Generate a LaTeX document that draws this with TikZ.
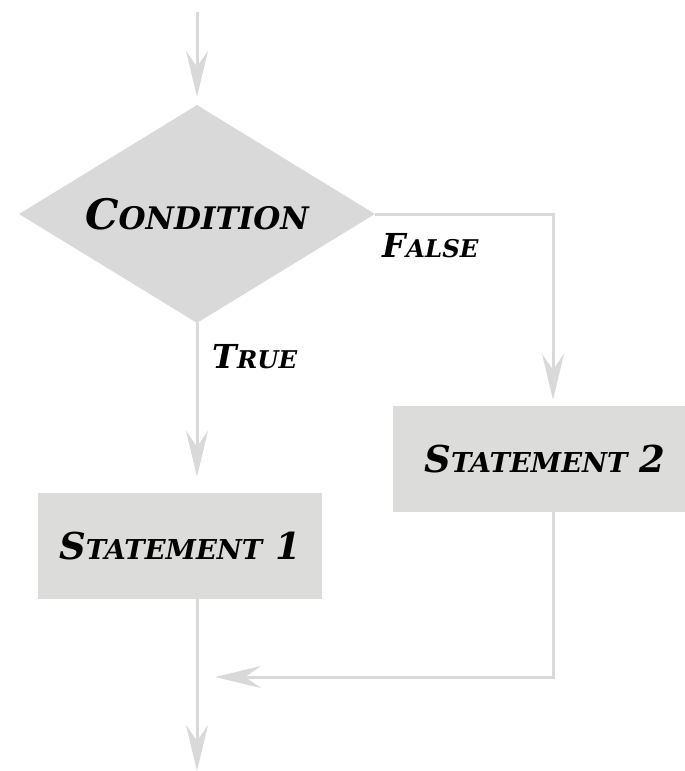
\documentclass[tikz,border=0pt]{standalone}
\usepackage{fontspec}
\usepackage{graphicx}
\newfontfamily\flowfont{DejaVu Serif}
\usetikzlibrary{shapes.geometric,arrows.meta}

\definecolor{linegray}{HTML}{D9D9D9}
\definecolor{boxgray}{HTML}{DCDCDA}
\newcommand{\Sm}[1]{\scalebox{0.74}{#1}}

\tikzset{
  flow/.style={draw=linegray,line width=3pt,-{Stealth[length=46pt,width=22pt,inset=16pt]}},
  decision/.style={diamond,fill=linegray,aspect=1.63,minimum width=356pt,minimum height=218pt,inner sep=0pt,
    font=\flowfont\bfseries\itshape\fontsize{42}{42}\selectfont},
  stmt/.style={rectangle,fill=boxgray,minimum height=106pt,inner sep=0pt,
    font=\flowfont\bfseries\itshape\fontsize{37}{37}\selectfont},
  branch/.style={inner sep=0pt,font=\flowfont\bfseries\itshape\fontsize{33}{33}\selectfont}
}

\begin{document}
\begin{tikzpicture}[x=1pt,y=-1pt]
  \useasboundingbox (0,0) rectangle (685,771);

  \node[decision] (cond) at (197,214) {C\Sm{ONDITION}};
  \node[stmt,minimum width=284pt] (stmtA) at (180,546) {S\Sm{TATEMENT} 1};
  \node[stmt,minimum width=292pt,text width=292pt,align=center] (stmtB) at (539,459) {\hspace*{12pt}S\Sm{TATEMENT} 2};

  \coordinate (start) at (197,12);
  \coordinate (merge) at (215,677);
  \coordinate (stop) at (197,771);

  \draw[flow,shorten >=8pt] (start) -- (cond.north);
  \draw[flow,shorten >=16pt] (cond.south) -- (cond.south |- stmtA.north)
    node[branch,pos=0.2,right=14pt] (true) {T\Sm{RUE}};
  \draw[flow,shorten >=6pt] (cond.east) -| ([xshift=14pt]stmtB.north)
    node[branch,pos=0,anchor=north west,xshift=6pt,yshift=-18pt] (false) {F\Sm{ALSE}};
  \draw[flow] ([xshift=14pt]stmtB.south) |- (merge);
  \draw[flow] (stmtA.south -| cond.south) -- (stop);
\end{tikzpicture}
\end{document}
